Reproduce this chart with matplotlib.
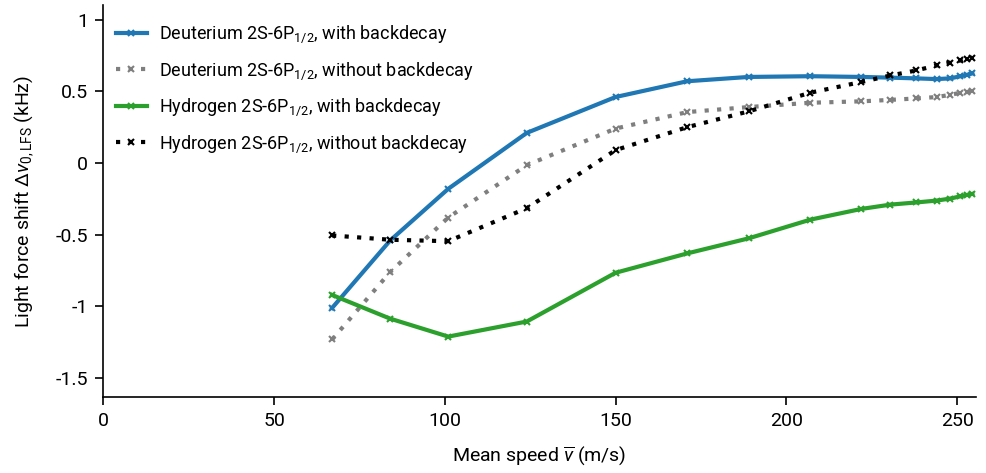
import numpy as np
import matplotlib
matplotlib.use("Agg")
import matplotlib.pyplot as plt
from matplotlib.ticker import FuncFormatter

font = 'Roboto'
plt.rcParams['font.family'] = [font, 'DejaVu Sans']
plt.rcParams['mathtext.fontset'] = 'custom'
plt.rcParams['mathtext.rm'] = font
plt.rcParams['mathtext.it'] = font + ':italic'
plt.rcParams['axes.unicode_minus'] = False

# mean speed (m/s)
speed = [67, 84, 101, 124, 150, 171, 189, 207, 222, 230.5, 238, 244, 248, 251, 253, 254.5]

# light force shift (kHz)
d_with = [-1.01, -0.54, -0.18, 0.21, 0.46, 0.57, 0.60, 0.605, 0.60, 0.595,
          0.59, 0.585, 0.59, 0.605, 0.615, 0.625]
d_without = [-1.23, -0.76, -0.38, -0.015, 0.24, 0.355, 0.39, 0.42, 0.43, 0.44,
             0.45, 0.46, 0.475, 0.49, 0.495, 0.50]
h_with = [-0.92, -1.085, -1.21, -1.105, -0.765, -0.63, -0.525, -0.395, -0.32, -0.29,
          -0.275, -0.262, -0.248, -0.232, -0.222, -0.215]
h_without = [-0.505, -0.535, -0.545, -0.315, 0.09, 0.25, 0.36, 0.49, 0.565, 0.61,
             0.645, 0.68, 0.70, 0.715, 0.725, 0.735]

labels = [r'Deuterium 2S-6P$_{1/2}$, with backdecay',
          r'Deuterium 2S-6P$_{1/2}$, without backdecay',
          r'Hydrogen 2S-6P$_{1/2}$, with backdecay',
          r'Hydrogen 2S-6P$_{1/2}$, without backdecay']

dots = (0, (1, 2))

fig = plt.figure(figsize=(9.87, 4.73), dpi=100)
ax = fig.add_axes([0.1047, 0.161, 0.884, 0.828])

ax.plot(speed, d_with, '-', marker='x', color='#1f77b4', lw=3, ms=5, mew=1.5, label=labels[0])
ax.plot(speed, d_without, ls=dots, marker='x', color='#7f7f7f', lw=3, ms=5, mew=1.5, label=labels[1])
ax.plot(speed, h_with, '-', marker='x', color='#2ca02c', lw=3, ms=5, mew=1.5, label=labels[2])
ax.plot(speed, h_without, ls=dots, marker='x', color='black', lw=3, ms=5, mew=1.5, label=labels[3])

ax.set_xlim(0, 255.5)
ax.set_ylim(-1.63, 1.1)
ax.set_xticks([0, 50, 100, 150, 200, 250])
ax.set_yticks([-1.5, -1, -0.5, 0, 0.5, 1])
ax.yaxis.set_major_formatter(FuncFormatter(lambda v, p: '%g' % v))
ax.spines['top'].set_visible(False)
ax.spines['right'].set_visible(False)
ax.tick_params(labelsize=14, length=6, width=1.2, pad=5)
for s in ['left', 'bottom']:
    ax.spines[s].set_linewidth(1.2)

ax.set_xlabel(r'Mean speed $\overline{v}$ (m/s)', fontsize=14, labelpad=10)
ax.set_ylabel(r'Light force shift $\Delta\nu_{0,\mathrm{LFS}}$ (kHz)', fontsize=14, labelpad=14)

ax.legend(loc='upper left', frameon=False, fontsize=13, handlelength=1.7,
          handletextpad=0.7, labelspacing=0.82, borderaxespad=0.3,
          bbox_to_anchor=(0.0, 0.985))

fig.savefig('out.png', dpi=100)
